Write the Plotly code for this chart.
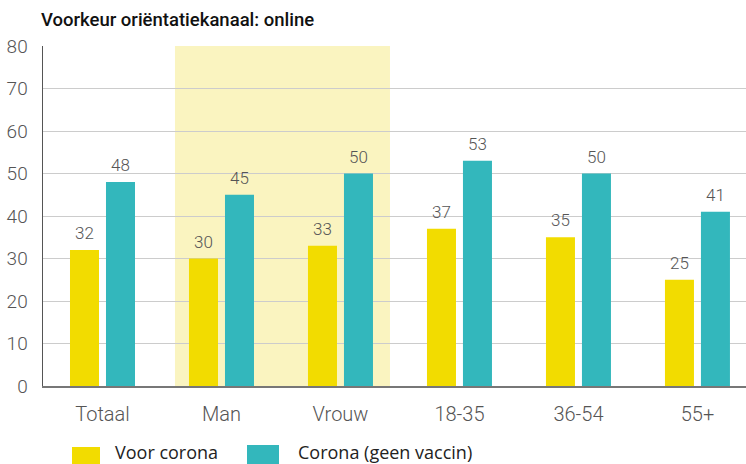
import plotly.graph_objects as go

categories = ["Totaal", "Man", "Vrouw", "18-35", "36-54", "55+"]
voor_corona = [32, 30, 33, 37, 35, 25]
corona_geen_vaccin = [48, 45, 50, 53, 50, 41]
series_names = ["Voor corona", "Corona (geen vaccin)"]
title_text = "Voorkeur oriëntatiekanaal: online"
y_ticks = [0, 10, 20, 30, 40, 50, 60, 70, 80]

YELLOW = "#f2dc00"
TEAL = "#33b7bc"
BAND = "#faf4c0"

W, H = 746, 464
ML, MR, MT, MB = 43, 0, 46, 78
PW = W - ML - MR
PH = H - MT - MB


def px_x(px):
    return (px - ML) / PW


def px_y(py):
    return (H - MB - py) / PH


fig = go.Figure()
series = [(series_names[0], voor_corona, YELLOW, -18),
          (series_names[1], corona_geen_vaccin, TEAL, 18)]
for name, vals, col, dx in series:
    fig.add_trace(go.Bar(
        x=categories, y=vals, name=name, marker=dict(color=col, line=dict(width=0)),
        showlegend=False, hoverinfo="skip",
    ))
    for cat, v in zip(categories, vals):
        fig.add_annotation(x=cat, y=v, xref="x", yref="y", text=str(v), showarrow=False,
                           xshift=dx, yshift=17, yanchor="middle",
                           font=dict(family="Roboto", size=17, color="#555555", weight=300))

fig.add_shape(type="rect", xref="x", yref="y", x0=0.609, x1=2.416, y0=0, y1=80,
              fillcolor=BAND, line=dict(width=0), layer="below")

# legend drawn manually
legend_items = [
    (72, 100, 447, series_names[0], YELLOW, 113),
    (247, 279, 445, series_names[1], TEAL, 296),
]
for x0, x1, y0, label, col, tx in legend_items:
    fig.add_shape(type="rect", xref="paper", yref="paper",
                  x0=px_x(x0), x1=px_x(x1), y0=px_y(y0), y1=px_y(H + 10),
                  fillcolor=col, line=dict(width=0), layer="above")
    fig.add_annotation(xref="paper", yref="paper", x=px_x(tx), y=px_y(452),
                       xanchor="left", yanchor="middle", showarrow=False, text=label,
                       font=dict(family="Open Sans", size=18, color="#222222"))

fig.add_annotation(xref="paper", yref="paper", x=px_x(39), y=px_y(20),
                   xanchor="left", yanchor="middle", showarrow=False, text=title_text,
                   font=dict(family="Roboto", size=18.5, color="#111111", weight=500))

fig.update_layout(
    width=W, height=H,
    margin=dict(l=ML, r=MR, t=MT, b=MB, autoexpand=False),
    paper_bgcolor="white", plot_bgcolor="white",
    barmode="group", bargap=0.395, bargroupgap=0.194,
    showlegend=False, hovermode=False,
    xaxis=dict(range=[-0.5, 5.408], showgrid=False, showline=True, linecolor="#777777",
               linewidth=1.5, ticks="outside", ticklen=9, tickcolor="rgba(0,0,0,0)",
               tickfont=dict(family="Roboto", size=20, color="#555555", weight=300),
               fixedrange=True),
    yaxis=dict(range=[0, 80], tickvals=y_ticks, showgrid=True, gridcolor="#cccccc",
               gridwidth=1, showline=True, linecolor="#555555", linewidth=1.5,
               ticks="outside", ticklen=10, tickcolor="rgba(0,0,0,0)",
               tickfont=dict(family="Roboto", size=19, color="#555555", weight=300),
               zeroline=False, fixedrange=True),
)

fig.write_html("out.html", config={"displayModeBar": False, "staticPlot": True},
               post_script="document.body.style.margin='0';document.body.style.overflow='hidden';")
